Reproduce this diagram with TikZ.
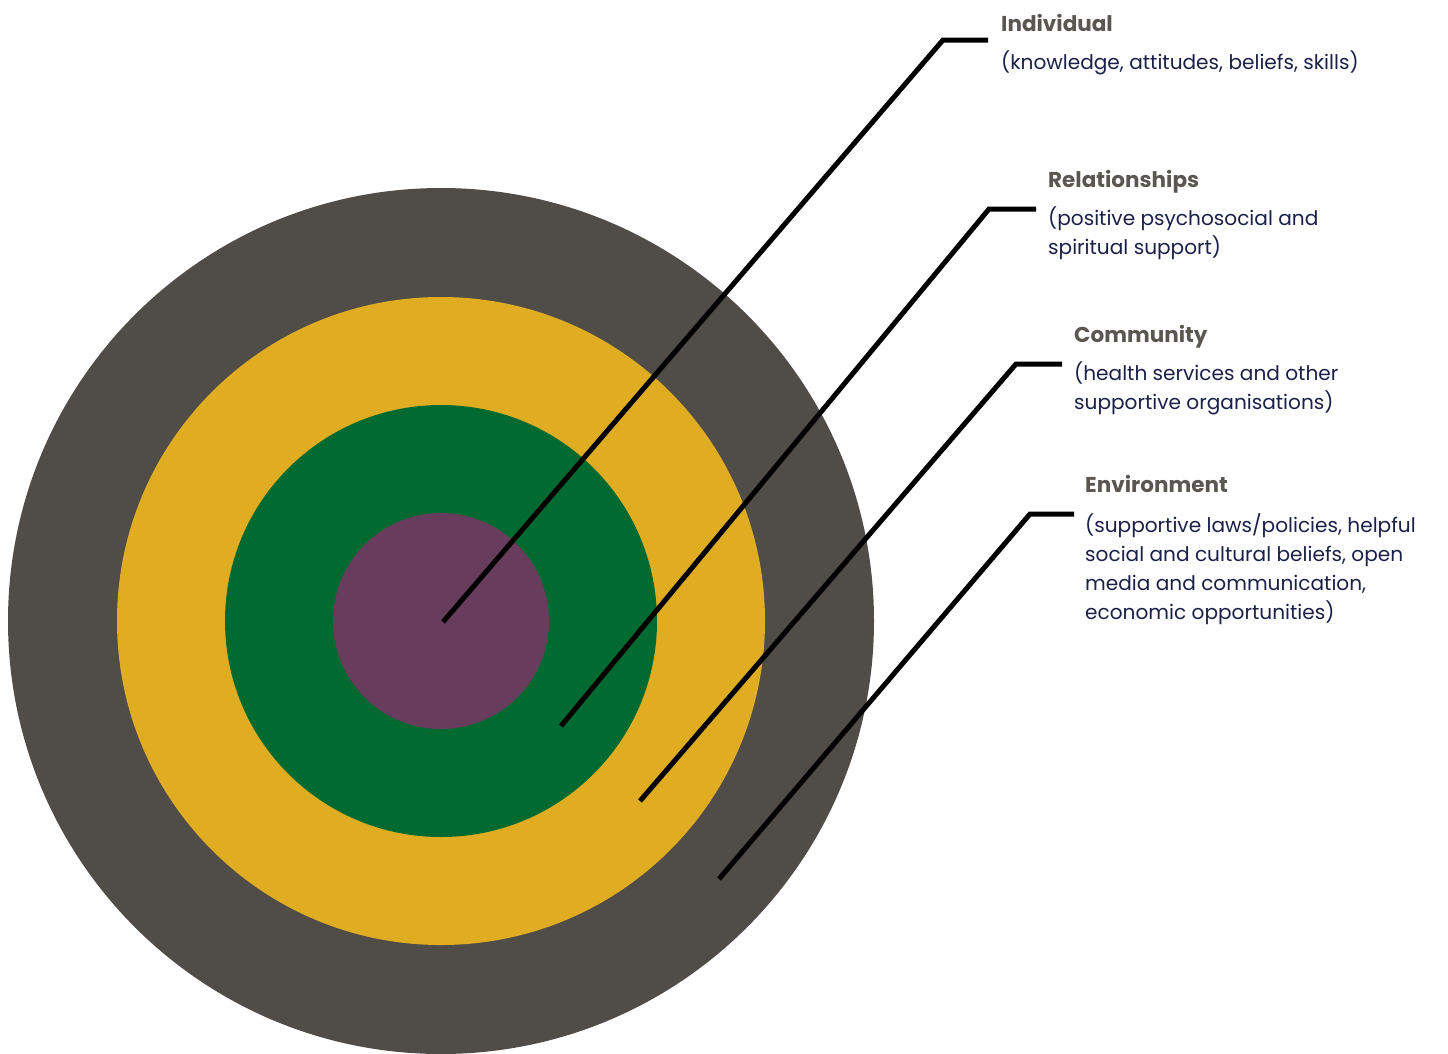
\documentclass[tikz,border=0pt]{standalone}
\usepackage{fontspec}
\setmainfont{Poppins}
\begin{document}
\definecolor{ringouter}{HTML}{504D48}
\definecolor{ringyellow}{HTML}{DFAC22}
\definecolor{ringgreen}{HTML}{006A31}
\definecolor{ringpurple}{HTML}{673C5C}
\definecolor{titlegray}{HTML}{5A5752}
\definecolor{bodynavy}{HTML}{1B2048}
\begin{tikzpicture}[x=1pt,y=-1pt,
  ring/.style={fill=#1,draw=none},
  leader/.style={draw=black,line width=5pt,line join=miter},
  titletext/.style={anchor=base west,inner sep=0pt,text=titlegray,font=\fontsize{21.5}{28}\selectfont\bfseries},
  bodytext/.style={anchor=north west,inner sep=0pt,text=bodynavy,align=left,font=\fontsize{20.1}{29}\selectfont}]
\useasboundingbox (0,0) rectangle (1448,1053);
% concentric rings of the model
\fill[ring=ringouter]  (441,621) circle[radius=433pt];
\fill[ring=ringyellow] (441,621) circle[radius=324pt];
\fill[ring=ringgreen]  (441,621) circle[radius=216pt];
\fill[ring=ringpurple] (441,621) circle[radius=108pt];
% leader line anchor points
\coordinate (iA) at (443,622);  \coordinate (iB) at (943,40);  \coordinate (iC) at (988,40);
\coordinate (rA) at (561,726);  \coordinate (rB) at (989,209); \coordinate (rC) at (1036,209);
\coordinate (cA) at (640,801);  \coordinate (cB) at (1016,364); \coordinate (cC) at (1062,364);
\coordinate (eA) at (719,879);  \coordinate (eB) at (1030,514); \coordinate (eC) at (1074,514);
\draw[leader] (iA) -- (iB) -- (iC);
\draw[leader] (rA) -- (rB) -- (rC);
\draw[leader] (cA) -- (cB) -- (cC);
\draw[leader] (eA) -- (eB) -- (eC);
% labels
\node[titletext] (indT) at (1001,31) {Individual};
\node[bodytext]  (indB) at (1001,51) {(knowledge, attitudes, beliefs, skills)};
\node[titletext] (relT) at (1048,187) {Relationships};
\node[bodytext]  (relB) at (1048,207) {(positive psychosocial and\\spiritual support)};
\node[titletext] (comT) at (1074,342) {Community};
\node[bodytext]  (comB) at (1074,362) {(health services and other\\supportive organisations)};
\node[titletext] (envT) at (1085,492) {Environment};
\node[bodytext]  (envB) at (1085,513) {(supportive laws/policies, helpful\\social and cultural beliefs, open\\media and communication,\\economic opportunities)};
\end{tikzpicture}
\end{document}
